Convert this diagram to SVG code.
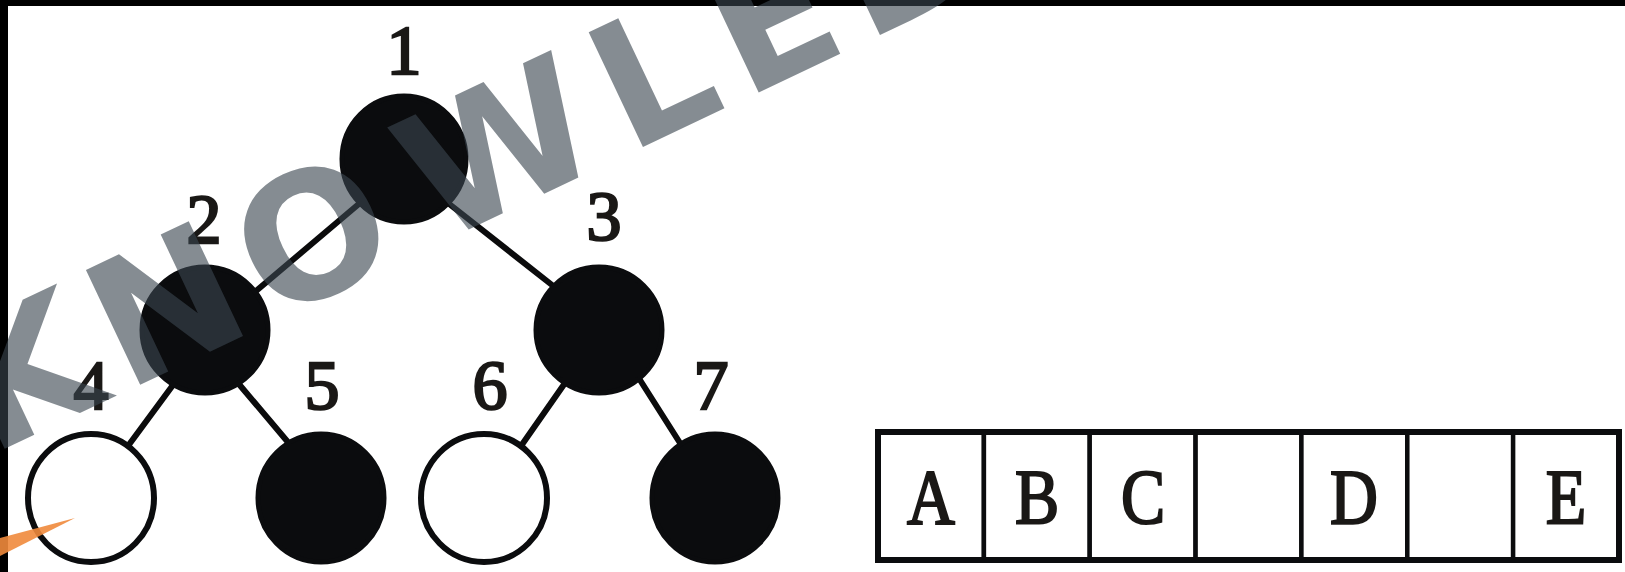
<svg xmlns="http://www.w3.org/2000/svg" width="1625" height="572" viewBox="0 0 1625 572">
<style>
.edge{stroke:#0b0b0c;stroke-width:6;fill:none;stroke-linecap:round}
.filled{fill:#0b0c0e;stroke:#0b0c0e;stroke-width:5}
.empty{fill:#ffffff;stroke:#0b0c0e;stroke-width:6}
.lbl{font-family:"Liberation Serif","Times New Roman",serif;font-size:70px;fill:#1a1816;stroke:#1a1816;stroke-width:2.4;text-anchor:middle}
.cell{fill:#ffffff;stroke:#0b0c0e;stroke-width:4.5}
.let{font-family:"Liberation Serif","Times New Roman",serif;font-size:78px;fill:#1a1816;stroke:#1a1816;stroke-width:2.2;text-anchor:middle}
.wm{font-family:"DejaVu Sans",sans-serif;font-weight:bold;font-size:174px;fill:rgb(58,70,79);fill-opacity:0.62}
</style>
<rect x="0" y="0" width="1625" height="572" fill="#ffffff"/>
<g id="connectors">
<line class="edge" x1="360" y1="203" x2="256" y2="291"/>
<line class="edge" x1="448" y1="203" x2="552" y2="285"/>
<line class="edge" x1="173" y1="385" x2="128" y2="446"/>
<line class="edge" x1="238" y1="383" x2="287" y2="441"/>
<line class="edge" x1="565" y1="383" x2="521" y2="446"/>
<line class="edge" x1="640" y1="380" x2="680" y2="443"/>
</g>
<g id="node1"><ellipse class="filled" cx="404" cy="159" rx="62" ry="63"/><text class="lbl" x="404" y="74">1</text></g>
<g id="node2"><ellipse class="filled" cx="205" cy="330" rx="63" ry="63"/><text class="lbl" x="204" y="243">2</text></g>
<g id="node3"><ellipse class="filled" cx="599" cy="330" rx="63" ry="63"/><text class="lbl" x="604" y="240">3</text></g>
<g id="node4"><ellipse class="empty" cx="91" cy="498" rx="63" ry="64"/><text class="lbl" x="91" y="409">4</text></g>
<g id="node5"><ellipse class="filled" cx="321" cy="498" rx="63" ry="64"/><text class="lbl" x="322" y="409">5</text></g>
<g id="node6"><ellipse class="empty" cx="484" cy="498" rx="63" ry="64"/><text class="lbl" x="490" y="409">6</text></g>
<g id="node7"><ellipse class="filled" cx="715" cy="498" rx="63" ry="64"/><text class="lbl" x="711" y="409">7</text></g>
<g id="array">
<rect class="cell" x="878" y="432" width="105.9" height="128"/>
<rect class="cell" x="983.9" y="432" width="105.9" height="128"/>
<rect class="cell" x="1089.7" y="432" width="105.9" height="128"/>
<rect class="cell" x="1195.6" y="432" width="105.9" height="128"/>
<rect class="cell" x="1301.4" y="432" width="105.9" height="128"/>
<rect class="cell" x="1407.3" y="432" width="105.9" height="128"/>
<rect class="cell" x="1513.1" y="432" width="105.9" height="128"/>
<rect x="878" y="432" width="741" height="128" fill="none" stroke="#0b0c0e" stroke-width="6"/>
<text class="let" transform="translate(931,523) scale(0.85,1)">A</text>
<text class="let" transform="translate(1037,523) scale(0.85,1)">B</text>
<text class="let" transform="translate(1143,523) scale(0.85,1)">C</text>
<text class="let" transform="translate(1354,523) scale(0.85,1)">D</text>
<text class="let" transform="translate(1566,523) scale(0.85,1)">E</text>
</g>
<rect x="0" y="0" width="1625" height="6" fill="#000000"/>
<rect x="0" y="0" width="8" height="572" fill="#000000"/>
<polygon points="75,518 0,538 0,556" fill="#f08a3c" fill-opacity="0.9"/>
<text class="wm" transform="translate(643,147) rotate(-25.3)" x="-722 -572 -411 -228 -16 112 246 405 563" y="0">KNOWLEDGE</text>
</svg>
